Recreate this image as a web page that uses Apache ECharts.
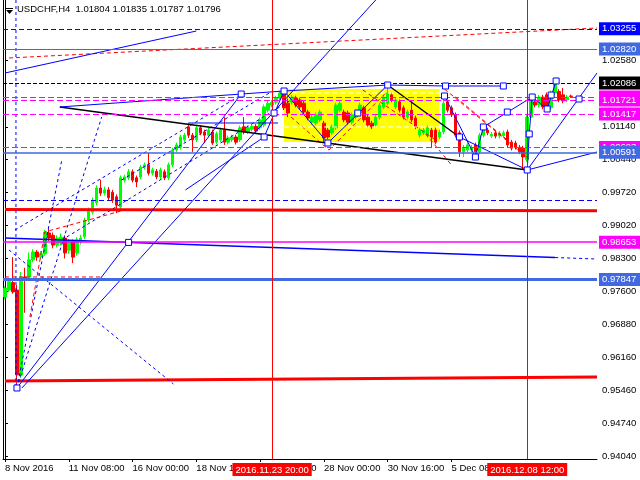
<!DOCTYPE html>
<html><head><meta charset="utf-8">
<script src="https://cdn.jsdelivr.net/npm/echarts@6/dist/echarts.min.js"></script>
<style>html,body{margin:0;padding:0;background:#fff}#c{width:640px;height:480px}</style>
</head><body><div id="c"></div>
<script>
// ---------- data ----------
const symbolName = 'USDCHF,H4';
const lastQuote = [1.01804, 1.01835, 1.01787, 1.01796];
const barCount = 149;
const xTickBars = [0,16,32,48,64,80,96,112,128];
const xTickLabels = ['8 Nov 2016','11 Nov 08:00','16 Nov 00:00','18 Nov 16:00','23 Nov 08:00','28 Nov 00:00','30 Nov 16:00','5 Dec 08:00','8 Dec 00:00'];
const yTickValues = [1.02580,1.01140,1.00440,0.99720,0.99020,0.98300,0.97600,0.96880,0.96160,0.95460,0.94740,0.94040];
const yMin = 0.93975, yMax = 1.03876;

const opens = [
0.9747,0.9762,0.9778,0.9762,0.9579,0.9790,0.9790,0.9827,0.9844,0.9833,
0.9840,0.9885,0.9880,0.9859,0.9863,0.9874,0.9848,0.9866,0.9842,0.9866,
0.9877,0.9913,0.9930,0.9950,0.9982,0.9971,0.9978,0.9973,0.9963,0.9941,
0.9999,1.0004,1.0017,1.0004,1.0006,1.0027,1.0032,1.0014,1.0018,1.0006,
1.0017,1.0004,1.0032,1.0064,1.0070,1.0086,1.0114,1.0096,1.0086,1.0112,
1.0103,1.0096,1.0103,1.0081,1.0086,1.0107,1.0081,1.0086,1.0092,1.0086,
1.0114,1.0103,1.0109,1.0115,1.0112,1.0118,1.0150,1.0161,1.0167,1.0176,
1.0187,1.0165,1.0167,1.0176,1.0172,1.0165,1.0146,1.0124,1.0122,1.0129,
1.0122,1.0107,1.0101,1.0112,1.0150,1.0146,1.0144,1.0124,1.0135,1.0144,
1.0155,1.0135,1.0122,1.0118,1.0135,1.0157,1.0165,1.0183,1.0157,1.0168,
1.0155,1.0135,1.0150,1.0133,1.0096,1.0101,1.0096,1.0107,1.0107,1.0092,
1.0103,1.0168,1.0155,1.0140,1.0101,1.0060,1.0064,1.0064,1.0075,1.0060,
1.0096,1.0107,1.0094,1.0101,1.0094,1.0095,1.0103,1.0081,1.0079,1.0070,
1.0068,1.0043,1.0135,1.0168,1.0161,1.0178,1.0183,1.0155,1.0187,1.0190,
1.0183,1.0172,1.01804];
const closes = [
0.9766,0.9780,0.9758,0.9579,0.9790,0.9788,0.9827,0.9844,0.9833,0.9840,
0.9887,0.9874,0.9859,0.9874,0.9876,0.9842,0.9866,0.9833,0.9870,0.9874,
0.9913,0.9935,0.9956,0.9982,0.9971,0.9978,0.9961,0.9956,0.9945,1.0004,
1.0006,1.0017,0.9999,0.9995,1.0027,1.0032,1.0014,1.0021,1.0006,1.0021,
1.0004,1.0032,1.0064,1.0075,1.0092,1.0096,1.0096,1.0086,1.0112,1.0101,
1.0096,1.0107,1.0079,1.0099,1.0107,1.0081,1.0090,1.0092,1.0081,1.0112,
1.0103,1.0112,1.0115,1.0105,1.0129,1.0157,1.0165,1.0167,1.0176,1.0187,
1.0155,1.0144,1.0178,1.0161,1.0157,1.0146,1.0133,1.0135,1.0140,1.0146,
1.0090,1.0092,1.0114,1.0161,1.0165,1.0129,1.0124,1.0140,1.0146,1.0161,
1.0129,1.0118,1.0114,1.0135,1.0161,1.0178,1.0187,1.0172,1.0172,1.0150,
1.0135,1.0146,1.0129,1.0114,1.0107,1.0107,1.0112,1.0092,1.0081,1.0103,
1.0165,1.0150,1.0140,1.0096,1.0060,1.0070,1.0075,1.0070,1.0060,1.0096,
1.0107,1.0101,1.0098,1.0094,1.0100,1.0101,1.0075,1.0068,1.0070,1.0060,
1.0049,1.0135,1.0176,1.0161,1.0178,1.0157,1.0155,1.0187,1.0210,1.0172,
1.0170,1.0178,1.01796];
const lows = [
0.9742,0.9758,0.9754,0.9551,0.9572,0.9713,0.9786,0.9822,0.9825,0.9828,
0.9836,0.9868,0.9852,0.9854,0.9858,0.9830,0.9840,0.9820,0.9836,0.9860,
0.9872,0.9908,0.9925,0.9945,0.9965,0.9966,0.9955,0.9950,0.9928,0.9937,
0.9994,0.9999,0.9994,0.9984,1.0001,1.0022,1.0009,1.0009,1.0001,1.0001,
0.9999,0.9999,1.0027,1.0059,1.0065,1.0081,1.0090,1.0060,1.0081,1.0096,
1.0079,1.0091,1.0075,1.0076,1.0081,1.0075,1.0076,1.0081,1.0076,1.0081,
1.0098,1.0098,1.0104,1.0100,1.0107,1.0113,1.0145,1.0156,1.0162,1.0171,
1.0150,1.0135,1.0162,1.0156,1.0152,1.0141,1.0128,1.0119,1.0117,1.0124,
1.0081,1.0087,1.0096,1.0107,1.0145,1.0124,1.0119,1.0119,1.0130,1.0139,
1.0124,1.0113,1.0109,1.0113,1.0130,1.0152,1.0160,1.0167,1.0152,1.0145,
1.0130,1.0130,1.0124,1.0109,1.0091,1.0096,1.0091,1.0068,1.0076,1.0087,
1.0098,1.0145,1.0135,1.0091,1.0049,1.0049,1.0059,1.0059,1.0049,1.0055,
1.0091,1.0096,1.0090,1.0089,1.0089,1.0090,1.0070,1.0063,1.0065,1.0055,
1.0023,1.0038,1.0130,1.0156,1.0156,1.0152,1.0152,1.0150,1.0182,1.0167,
1.0165,1.0167,1.01787];
const highs = [
0.9770,0.9784,0.9833,0.9773,0.9801,0.9810,0.9843,0.9850,0.9848,0.9846,
0.9892,0.9895,0.9886,0.9880,0.9884,0.9880,0.9872,0.9871,0.9876,0.9881,
0.9918,0.9940,0.9962,0.9988,1.0000,0.9985,0.9984,0.9978,0.9968,1.0009,
1.0011,1.0023,1.0022,1.0009,1.0032,1.0037,1.0058,1.0026,1.0023,1.0026,
1.0022,1.0037,1.0069,1.0080,1.0097,1.0101,1.0122,1.0101,1.0117,1.0117,
1.0108,1.0112,1.0108,1.0104,1.0112,1.0135,1.0095,1.0097,1.0097,1.0117,
1.0135,1.0117,1.0120,1.0120,1.0134,1.0162,1.0170,1.0172,1.0181,1.0192,
1.0191,1.0175,1.0183,1.0181,1.0177,1.0170,1.0151,1.0140,1.0145,1.0151,
1.0127,1.0112,1.0119,1.0166,1.0170,1.0151,1.0149,1.0145,1.0151,1.0166,
1.0160,1.0140,1.0127,1.0140,1.0166,1.0183,1.0204,1.0188,1.0177,1.0173,
1.0160,1.0151,1.0170,1.0138,1.0112,1.0112,1.0117,1.0112,1.0112,1.0108,
1.0183,1.0173,1.0160,1.0145,1.0106,1.0075,1.0080,1.0075,1.0080,1.0101,
1.0118,1.0112,1.0103,1.0106,1.0105,1.0106,1.0108,1.0086,1.0084,1.0075,
1.0073,1.0140,1.0181,1.0173,1.0183,1.0183,1.0188,1.0192,1.0213,1.0195,
1.0198,1.0183,1.01835];

// horizontal price levels and their right-hand price tags
const levelValues = [1.03255, 1.02820, 1.02086, 1.01782, 1.01721, 1.01417, 1.00693, 1.00591, 0.99562, 0.98653, 0.97847];
// vertical markers (bar index) and their labels
const crossBars = [67, 131];
const crossLabels = ['2016.11.23 20:00', '2016.12.08 12:00'];
// yellow box: bar range and price range
const boxBars = [70, 109];
const boxPrices = [1.01956, 1.00813];

// trend objects, [barIndex, price] points
const blueSolid = [
  [[3,0.95507],[59.25,1.01848]],
  [[4.25,0.95507],[93,1.03876]],
  [[0,1.02301],[48,1.03207]],
  [[13.75,1.01568],[59.25,1.01848],[70,1.01913],[96,1.02042],[110.5,1.02021],[125,1.02021]],
  [[45.25,0.99778],[65,1.00921]],
  [[65,1.00921],[70,1.01913]],
  [[46,1.01223],[68.5,1.01223]],
  [[70,1.01913],[81,1.00791],[96,1.02042]],
  [[110.25,1.01805],[118,1.00489],[120,1.01137],[132.25,1.01783]],
  [[114,1.00921],[131,1.00209]],
  [[131,1.00209],[148.5,1.00597]],
  [[131,1.00209],[148.5,1.02301]],
  [[131,1.00209],[131.5,1.00986],[132.25,1.01783],[136,1.01525],[138.25,1.02129]]
];
const blackSolid = [
  [[13.75,1.01568],[131,1.00209]],
  [[96,1.02042],[114,1.00921]]
];
const blueSlope = [[[0,0.98742],[138,0.98321]]];
const blueDotted = [
  [[138,0.98321],[148.5,0.98289]],
  [[2.75,1.03876],[2.75,0.95507]],
  [[1,0.98484],[42.25,0.95593]],
  [[3,0.95507],[24.25,1.01352]],
  [[3,0.95507],[14.25,1.00425]],
  [[2.5,0.98915],[59.25,1.01826]],
  [[14.25,0.98699],[71.75,1.01718]],
  [[29.25,0.99993],[66.75,1.01891]]
];
const redDashed = [
  [[1,1.02625],[148.5,1.03272]],
  [[0,0.97901],[24.25,0.97901]],
  [[6.25,0.97038],[10,0.98872],[11.75,0.98915],[30,0.99346]],
  [[71.75,1.01352],[81.25,1.00640],[95.5,1.01870]],
  [[89.75,1.01935],[108,1.00856]],
  [[110.25,1.01956],[131.75,1.00425]],
  [[113,1.01783],[126,1.00856]],
  [[105.5,1.00986],[112,1.00317]]
];
const redThick = [
  [[0,0.99357],[148.5,0.99331]],
  [[0,0.95658],[148.5,0.95744]]
];
const whiteDashed = [
  [[70,1.01870],[109,1.01870]],
  [[70,1.01137],[109,1.01137]]
];
const squares = [
  [3,0.95507],[31,0.98647],[59.25,1.01848],[70,1.01913],[65,1.00921],[67.5,1.01438],
  [81,1.00791],[88.5,1.01438],[96,1.02042],[110.5,1.02021],[125,1.02021],[110.25,1.01805],
  [114,1.00921],[118,1.00489],[120,1.01137],[126,1.01460],[131,1.00209],[131.5,1.00986],
  [132.25,1.01783],[136,1.01525],[137,1.01826],[138.25,1.02129],[144,1.01740]
];

// ---------- styles ----------
const FONT = '"Liberation Sans", Arial, sans-serif';
const FS = 9.5;
const BLUE = '#0000ff', ROYAL = '#4169e1', MAG = '#ff00ff', RED = '#ff0000', GREEN = '#00ff00';
const levelStyles = [
  {c: BLUE, t: [5,3], w: 1, tag: true},
  {c: ROYAL, t: 'solid', w: 1, tag: true},
  {c: '#000000', t: [4,2], w: 1, tag: true},
  {c: MAG, t: [6,3], w: 1, tag: true},
  {c: MAG, t: [6,3], w: 1, tag: true},
  {c: MAG, t: [6,3], w: 1, tag: true},
  {c: MAG, t: [6,3], w: 1, tag: true},
  {c: ROYAL, t: 'solid', w: 1.5, tag: true},
  {c: BLUE, t: [5,3], w: 1, tag: false},
  {c: MAG, t: 'solid', w: 1.5, tag: true},
  {c: ROYAL, t: 'solid', w: 3, tag: true}
];
const groupStyles = [
  {segs: redThick, c: RED, t: 'solid', w: 3},
  {segs: blueSlope, c: BLUE, t: 'solid', w: 1.5},
  {segs: blueDotted, c: BLUE, t: [3,3], w: 1},
  {segs: redDashed, c: RED, t: [4,3], w: 1},
  {segs: whiteDashed, c: '#ffffff', t: [5,3], w: 1},
  {segs: blackSolid, c: '#000000', t: 'solid', w: 1.3},
  {segs: blueSolid, c: BLUE, t: 'solid', w: 1}
];

// ---------- build ----------
const cats = Array.from({length: barCount}, (_, i) => String(i));
const candleData = opens.map((o, i) => [o, closes[i], lows[i], highs[i]]);

const markLineData = [];
levelValues.forEach((v, k) => {
  const s = levelStyles[k];
  markLineData.push({
    yAxis: v,
    lineStyle: {color: s.c, type: s.t, width: s.w},
    label: s.tag ? {show: true, position: 'end', distance: 2, formatter: v.toFixed(5),
      color: '#fff', backgroundColor: s.c, padding: [2,4,1,3], fontSize: FS, fontFamily: FONT}
      : {show: false}
  });
});
crossBars.forEach((b, k) => {
  markLineData.push({
    xAxis: b,
    lineStyle: {color: RED, type: 'solid', width: 1},
    label: {show: true, position: 'start', distance: 4, formatter: crossLabels[k],
      color: '#fff', backgroundColor: RED, padding: [2,3,1,3], fontSize: FS, fontFamily: FONT}
  });
});

const series = [
  {
    type: 'line', xAxisIndex: 1, yAxisIndex: 0, data: [], silent: true,
    markArea: {silent: true, itemStyle: {color: '#ffff00'},
      data: [[{xAxis: boxBars[0] , yAxis: boxPrices[0]}, {xAxis: boxBars[1], yAxis: boxPrices[1]}]]},
  },
  {
    type: 'candlestick', xAxisIndex: 0, yAxisIndex: 0, data: candleData, barWidth: 3, z: 3,
    itemStyle: {color: GREEN, color0: RED, borderColor: GREEN, borderColor0: RED, borderWidth: 1},
    markLine: {silent: true, precision: 5, symbol: ['none','none'], data: markLineData, animation: false, z: 6}
  }
];
groupStyles.forEach(g => {
  g.segs.forEach(seg => {
    series.push({
      type: 'line', xAxisIndex: 1, yAxisIndex: 0, data: seg, showSymbol: false, symbol: 'none',
      silent: true, z: 4, lineStyle: {color: g.c, type: g.t, width: g.w}
    });
  });
});
series.push({
  type: 'scatter', xAxisIndex: 1, yAxisIndex: 0, data: squares, symbol: 'rect', symbolSize: 6,
  silent: true, z: 7, itemStyle: {color: '#ffffff', borderColor: BLUE, borderWidth: 1, opacity: 1}
});

const chart = echarts.init(document.getElementById('c'), null, {renderer: 'canvas'});
chart.setOption({
  animation: false,
  backgroundColor: '#ffffff',
  grid: {left: 3, right: 43, top: 0, bottom: 21, containLabel: false},
  xAxis: [
    {
      type: 'category', data: cats, boundaryGap: true,
      axisLine: {show: true, lineStyle: {color: '#000', width: 1}},
      axisTick: {show: true, alignWithLabel: true, length: 3, interval: (i) => xTickBars.includes(i), lineStyle: {color: '#000'}},
      axisLabel: {show: true, interval: (i) => xTickBars.includes(i), showMaxLabel: false, showMinLabel: true,
        formatter: (val, idx) => xTickLabels[xTickBars.indexOf(idx)] || '', align: 'left', margin: 4,
        color: '#000', fontSize: FS, fontFamily: FONT},
      splitLine: {show: false}
    },
    {type: 'value', min: -0.5, max: barCount - 0.5, show: false}
  ],
  yAxis: [
    {
      type: 'value', position: 'right', min: yMin, max: yMax, scale: true,
      axisLine: {show: true, lineStyle: {color: '#000', width: 1}},
      axisTick: {show: true, length: 3, customValues: yTickValues, lineStyle: {color: '#000'}},
      axisLabel: {show: true, customValues: yTickValues, formatter: (v) => v.toFixed(5), margin: 5,
        color: '#000', fontSize: FS, fontFamily: FONT},
      splitLine: {show: false}
    },
    {
      type: 'value', position: 'left', min: yMin, max: yMax, show: true,
      axisLine: {show: true, lineStyle: {color: '#000'}}, axisTick: {show: false}, axisLabel: {show: false},
      splitLine: {show: false}
    }
  ],
  graphic: [
    {type: 'line', shape: {x1: 6, y1: 8.5, x2: 13, y2: 8.5}, style: {stroke: '#000', lineWidth: 1}},
    {type: 'polygon', shape: {points: [[6,10],[13,10],[9.5,14]]}, style: {fill: '#000'}},
    {type: 'text', left: 17, top: 4, style: {text: symbolName + '  ' + lastQuote.map(v => v.toFixed(5)).join(' '),
      fill: '#000', fontSize: FS, fontFamily: FONT}}
  ],
  series: series
});
</script>
</body></html>
